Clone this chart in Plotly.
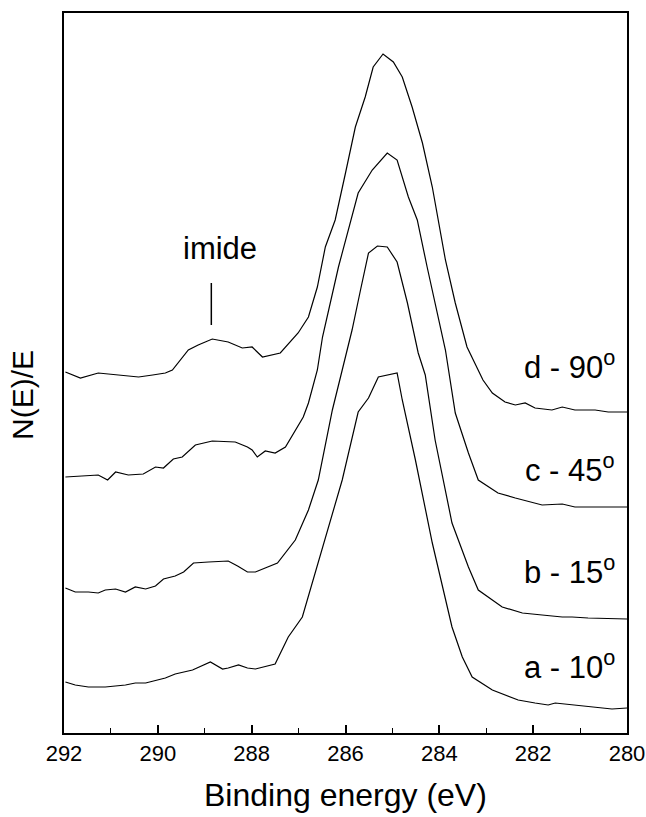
import plotly.graph_objects as go

# Binding energy (eV) and intensity (arbitrary units)
d_E = [291.97, 291.65, 291.27, 290.75, 290.41, 290.11, 289.84, 289.69, 289.35, 289.14,
       288.84, 288.50, 288.20, 287.99, 287.77, 287.39, 287.01, 286.79, 286.60, 286.43,
       286.22, 286.00, 285.79, 285.58, 285.41, 285.20, 284.98, 284.79, 284.58, 284.36,
       284.15, 283.87, 283.66, 283.41, 283.07, 282.87, 282.60, 282.38, 282.17, 281.96,
       281.60, 281.38, 281.11, 280.68, 280.40, 280.00]
d_I = [361, 355, 360, 358, 356, 358, 360, 363, 383, 388,
       394, 391, 385, 386, 376, 380, 400, 416, 446, 486,
       513, 560, 606, 636, 666, 679, 671, 656, 626, 590,
       546, 473, 430, 386, 353, 340, 331, 328, 330, 325,
       323, 326, 323, 323, 321, 321]

c_E = [291.97, 291.61, 291.27, 291.07, 290.90, 290.63, 290.31, 290.05, 289.88, 289.67,
       289.48, 289.20, 288.84, 288.35, 288.09, 287.99, 287.88, 287.71, 287.50, 287.28,
       287.07, 286.90, 286.79, 286.60, 286.49, 286.15, 285.73, 285.43, 285.11, 284.90,
       284.66, 284.47, 284.26, 284.02, 283.87, 283.66, 283.38, 283.17, 282.75, 282.38,
       282.02, 281.81, 281.38, 281.11, 280.68, 280.00]
c_I = [256, 257, 258, 253, 261, 258, 259, 266, 265, 274,
       276, 288, 292, 291, 286, 283, 276, 282, 280, 286,
       303, 316, 330, 363, 396, 466, 540, 563, 580, 573,
       536, 513, 466, 413, 383, 320, 280, 253, 240, 235,
       231, 228, 229, 226, 226, 226]

b_E = [291.97, 291.76, 291.48, 291.27, 291.12, 290.90, 290.69, 290.48, 290.26, 290.05,
       289.88, 289.63, 289.45, 289.24, 288.92, 288.50, 288.30, 288.09, 287.92, 287.71,
       287.45, 287.07, 286.79, 286.58, 286.28, 286.07, 285.86, 285.68, 285.51, 285.32,
       285.11, 284.90, 284.68, 284.45, 284.30, 284.09, 283.87, 283.73, 283.38, 283.17,
       282.66, 282.23, 281.81, 281.38, 281.17, 280.83, 280.00]
b_I = [145, 141, 141, 140, 143, 144, 141, 146, 144, 147,
       154, 157, 161, 170, 171, 172, 167, 161, 161, 165,
       170, 193, 223, 253, 323, 363, 403, 443, 480, 487,
       486, 471, 430, 380, 358, 293, 240, 210, 166, 143,
       126, 120, 118, 116, 116, 115, 114]

a_E = [291.97, 291.76, 291.48, 291.12, 290.69, 290.48, 290.26, 289.84, 289.63, 289.26,
       288.88, 288.62, 288.50, 288.28, 288.09, 287.92, 287.50, 287.22, 286.92, 286.71,
       286.43, 286.07, 285.73, 285.51, 285.30, 284.90, 284.79, 284.51, 284.15, 283.87,
       283.73, 283.51, 283.30, 282.87, 282.32, 281.96, 281.68, 281.53, 281.11, 280.68,
       280.32, 280.00]
a_I = [51, 48, 46, 46, 48, 50, 50, 55, 59, 63,
       71, 64, 65, 68, 65, 64, 69, 96, 116, 150,
       193, 253, 321, 335, 356, 360, 333, 273, 190, 133,
       106, 76, 56, 43, 33, 30, 28, 30, 28, 26,
       24, 25]

series = [("a - 10", a_E, a_I), ("b - 15", b_E, b_I), ("c - 45", c_E, c_I), ("d - 90", d_E, d_I)]
label_pos = {"a - 10": 68, "b - 15": 163, "c - 45": 265, "d - 90": 368}

x_ticks = [292, 290, 288, 286, 284, 282, 280]

FONT = "Liberation Sans, Arial, Helvetica, sans-serif"

fig = go.Figure()
for name, E, I in series:
    fig.add_trace(go.Scatter(x=E, y=I, mode="lines", name=name,
                             line=dict(color="black", width=1.2), showlegend=False,
                             hoverinfo="skip"))
    fig.add_annotation(x=280.21, y=label_pos[name], xref="x", yref="y",
                       text=name + "<sup>o</sup>", showarrow=False,
                       xanchor="right", yanchor="middle",
                       font=dict(family=FONT, size=31, color="black"))

# imide marker
fig.add_shape(type="line", x0=288.86, x1=288.86, y0=408, y1=450, xref="x", yref="y",
              line=dict(color="black", width=1.5))
fig.add_annotation(x=288.67, y=485, xref="x", yref="y", text="imide", showarrow=False,
                   xanchor="center", yanchor="middle",
                   font=dict(family=FONT, size=31, color="black"))

# axis titles
fig.add_annotation(x=0.5, y=-0.086, xref="paper", yref="paper", text="Binding energy (eV)",
                   showarrow=False, xanchor="center", yanchor="middle",
                   font=dict(family=FONT, size=32, color="black"))
fig.add_annotation(x=-0.074, y=0.47, xref="paper", yref="paper", text="N(E)/E",
                   showarrow=False, xanchor="center", yanchor="middle", textangle=-90,
                   font=dict(family=FONT, size=30, color="black"))

fig.update_layout(
    width=646, height=817,
    margin=dict(l=63.5, r=19, t=13, b=84, autoexpand=False),
    paper_bgcolor="white", plot_bgcolor="white",
    xaxis=dict(range=[292, 280], autorange=False, tickvals=x_ticks,
               ticktext=[str(v) for v in x_ticks], automargin=False,
               ticks="inside", ticklen=8, tickwidth=1.5, tickcolor="black",
               ticklabeloverflow="allow",
               minor=dict(dtick=1, tick0=281, ticks="inside", ticklen=5, tickwidth=1.2,
                          tickcolor="black", showgrid=False),
               showline=True, linecolor="black", linewidth=2, mirror=True,
               showgrid=False, zeroline=False,
               tickfont=dict(family=FONT, size=22, color="black")),
    yaxis=dict(range=[0, 720], autorange=False, showticklabels=False, ticks="",
               automargin=False,
               showline=True, linecolor="black", linewidth=1.5, mirror=True,
               showgrid=False, zeroline=False),
)

fig.write_html("out.html", config={"displayModeBar": False},
               post_script="document.body.style.margin='0';document.body.style.overflow='hidden';")
